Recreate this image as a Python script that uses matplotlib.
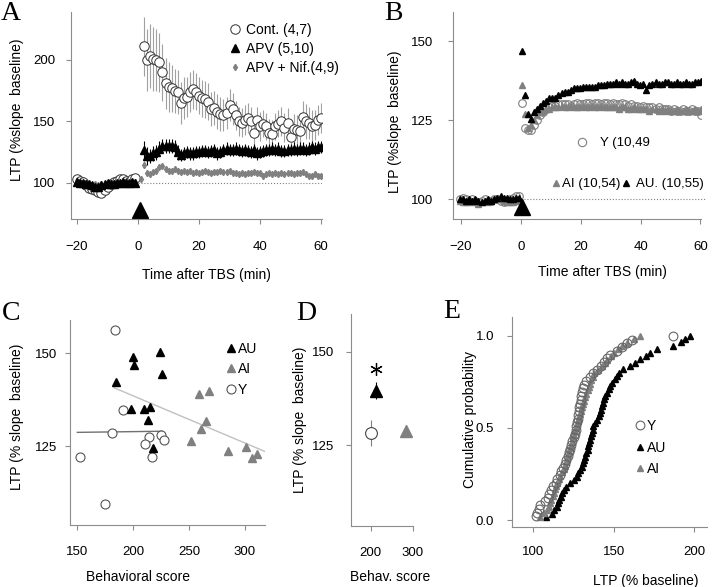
import numpy as np
import matplotlib
matplotlib.use('Agg')
import matplotlib.pyplot as plt
from matplotlib.lines import Line2D
from matplotlib.legend import Legend

plt.rcParams['font.family'] = ['Liberation Sans', 'DejaVu Sans']
plt.rcParams['font.size'] = 9.5

# ---------------- data ----------------
# panel A: time course, % slope baseline
t_base = np.arange(-20, 0)
t_post_a = np.arange(2, 61)
t_post_nif = np.arange(1, 61)

cont_base = [103, 102, 101, 98, 96, 95, 94, 93, 92, 94, 97, 99, 101, 102, 103, 103, 102, 101, 103, 104]
cont_base_err = [2, 2, 2, 2, 3, 3, 3, 3, 3, 2, 2, 2, 2, 2, 2, 2, 2, 2, 2, 2]
cont_post = [211, 200, 203, 201, 200, 198, 190, 181, 178, 177, 175, 174, 165, 169, 170, 174, 176, 174, 171, 169,
             168, 166, 160, 161, 158, 156, 155, 157, 163, 160, 155, 150, 149, 151, 153, 150, 141, 151, 146, 148,
             146, 141, 140, 146, 148, 150, 145, 149, 137, 144, 143, 142, 154, 150, 149, 146, 147, 151, 153]
cont_post_err = [24, 25, 26, 26, 25, 24, 23, 21, 20, 19, 18, 18, 17, 17, 16, 16, 16, 15, 15, 15,
                 15, 15, 14, 14, 14, 14, 13, 13, 13, 13, 12, 12, 12, 12, 12, 12, 12, 11, 12, 11,
                 11, 11, 11, 11, 11, 12, 12, 12, 12, 12, 12, 13, 13, 14, 13, 13, 12, 12, 12]

apv_base = [101, 100, 100, 99, 99, 98, 97, 97, 98, 99, 100, 99, 99, 100, 100, 101, 100, 100, 101, 100]
apv_base_err = [2, 2, 2, 2, 2, 2, 2, 2, 2, 2, 2, 2, 2, 2, 2, 2, 2, 2, 2, 2]
apv_post = [127, 122, 122, 124, 125, 128, 130, 130, 130, 130, 129, 125, 123, 124, 125, 124, 124, 125, 125, 126,
            126, 125, 126, 127, 124, 125, 127, 128, 127, 127, 128, 127, 126, 127, 126, 125, 127, 124, 125, 126,
            127, 127, 128, 127, 128, 126, 126, 127, 127, 128, 127, 128, 128, 127, 128, 129, 128, 129, 129]
apv_post_err = [7, 7, 6, 6, 6, 6, 6, 6, 6, 6, 6, 6, 5, 5, 5, 5, 5, 5, 5, 5,
                5, 5, 5, 5, 5, 5, 5, 5, 5, 5, 5, 5, 5, 5, 5, 5, 5, 5, 5, 5,
                5, 5, 5, 5, 5, 5, 5, 5, 5, 5, 5, 5, 5, 5, 5, 5, 5, 5, 5]

nif_base = [101, 100, 100, 99, 99, 98, 99, 98, 99, 99, 99, 100, 100, 100, 99, 100, 100, 100, 101, 101]
nif_base_err = [1.5, 1.5, 1.5, 1.5, 1.5, 1.5, 1.5, 1.5, 1.5, 1.5, 1.5, 1.5, 1.5, 1.5, 1.5, 1.5, 1.5, 1.5, 1.5, 1.5]
nif_post = [103, 115, 108, 107, 109, 110, 113, 114, 111, 110, 110, 111, 110, 109, 110, 109, 110, 108, 109, 108,
            109, 110, 109, 108, 109, 109, 110, 109, 109, 110, 108, 108, 107, 108, 107, 108, 108, 109, 108, 108,
            106, 107, 108, 107, 108, 107, 108, 107, 108, 108, 107, 108, 108, 109, 107, 106, 106, 107, 106, 106]
nif_post_err = [2, 3, 2, 2, 2, 2, 2, 2, 2, 2, 2, 2, 2, 2, 2, 2, 2, 2, 2, 2,
                2, 2, 2, 2, 2, 2, 2, 2, 2, 2, 2, 2, 2, 2, 2, 2, 2, 2, 2, 2,
                2, 2, 2, 2, 2, 2, 2, 2, 2, 2, 2, 2, 2, 2, 2, 2, 2, 2, 2, 2]

tbs_a = (0.7, 78)
dot_a = [0, 60.5]

# panel B: Y / AI / AU time course
t_base_b = np.linspace(-20.5, -0.5, 20)
t_post_b = np.linspace(0.4, 60.2, 60)
y_base = [100, 100.5, 100, 99.5, 100, 99.5, 99, 99.5, 100, 99.5, 99.5, 100, 100, 99.5, 99, 99.5, 100, 100.5, 101, 101]
ai_base = [99.5, 99, 99, 99, 99.5, 99, 98.5, 99, 99.5, 99, 99.5, 100, 100.5, 100, 99.5, 99, 99, 99, 99.5, 100]
au_base = [100, 100, 99.5, 100, 99.5, 100, 99.5, 99, 99.5, 100, 99.5, 100, 100.5, 101, 100.5, 100.5, 100, 100, 100.5, 100.5]
y_post = [130.5, 122.5, 122, 122, 123.5, 125, 126.5, 127.5, 128.5, 129,
          129.5, 129.5, 130, 130, 130, 130, 129.5, 130, 130.5, 130,
          130, 130.5, 130.5, 130, 130.5, 130.5, 130, 130.5, 130.5, 130,
          130.5, 130, 130, 130.5, 130, 129.5, 130, 129.5, 129.5, 129,
          129.5, 129, 129, 129, 128.5, 129, 128.5, 128.5, 128.5, 128,
          128.5, 128, 128, 128.5, 128, 128, 128.5, 128, 128, 126.5]
ai_post = [136, 127, 122.5, 123.5, 125, 126.5, 127.5, 128, 128.5, 128.5,
           129, 129, 129, 129.5, 129, 129, 129.5, 129, 129, 129,
           129.5, 129, 129, 129.5, 129, 129, 129.5, 129, 129, 129,
           129, 129, 128.5, 129, 129, 128.5, 128.5, 129, 128.5, 128.5,
           128.5, 128.5, 128, 128.5, 128.5, 128, 128.5, 128, 128.5, 128,
           128, 128.5, 128, 128, 128.5, 128, 128, 128.5, 128, 128.5]
au_post = [147, 133, 127, 125.5, 127.5, 128.5, 129.5, 130.5, 131, 132,
           132, 132, 133, 133.5, 134, 134, 134.5, 135, 135, 135,
           135.5, 135.5, 135.5, 135.5, 135.5, 136, 136, 136, 136.5, 136.5,
           136.5, 137, 136.5, 137, 136.5, 136.5, 137, 137.5, 136.5, 136,
           136.5, 134.5, 136, 136.5, 137, 136.5, 136.5, 137, 137, 136.5,
           136.5, 137, 136.5, 136.5, 137, 136.5, 136.5, 137, 137, 137.5]
tbs_b = (0.4, 97.6)
dot_b = [0, 62]

# panel C: LTP vs behavioral score
y_score = [184.2, 191.4, 181.3, 214.6, 210.7, 225, 228, 217.3, 152.4, 174.7]
y_ltp = [156.1, 134.8, 128.4, 127.5, 125.7, 128, 126.6, 122.1, 122.1, 109.5]
au_score = [185.1, 200.3, 201.2, 224.1, 225.9, 198.5, 210.1, 215.4, 213.7, 218.2]
au_ltp = [142.2, 148.9, 146.9, 150.4, 144.5, 134.9, 134.9, 135.4, 132.1, 124.6]
ai_score = [259.2, 268.2, 265.2, 260.7, 251.8, 285.1, 300.6, 306.3, 311]
ai_ltp = [138.9, 139.8, 131.8, 129.5, 126.3, 123.7, 124.8, 121.7, 123]
fit_aged_x = [183, 318.3]
fit_aged_y = [140.7, 123.5]
fit_young_x = [150.3, 226.2]
fit_young_y = [128.7, 129.0]

# panel D: group means
d_x = [200, 211.9, 284]
d_y = [128.3, 139.6, 128.8]
d_err = [3.5, 2.4, 1.5]
sig_x, sig_y = 211.9, 145.3

# panel E: cumulative distributions of LTP
e_y = [101.7, 102.5, 103.5, 104, 107.5, 109, 110, 111, 112.5, 114, 115, 116.5, 117.5, 118.5, 119.5, 120.5,
       121.3, 122, 122.6, 123.2, 124.2, 125.2, 125.9, 126.3, 126.7, 127.1, 127.5, 127.9, 128.3, 128.7, 129.1,
       129.5, 129.9, 130.3, 131, 131.8, 133, 135, 137, 139.5, 142, 144, 146, 147.6, 152, 155, 158, 161.5, 187]
e_ai = [104, 106.5, 108.3, 109.5, 110.5, 111.2, 112, 112.8, 113.5, 114.2, 114.8, 115.8, 116.8, 117.8, 118.8,
        119.6, 120.2, 120.8, 121.5, 122.3, 123, 123.6, 124.2, 124.8, 125.4, 126, 126.6, 127.3, 127.9, 128.5,
        129, 129.6, 130.3, 131, 131.7, 132.4, 133, 133.7, 134.4, 135.2, 136, 136.8, 137.5, 140, 142.5, 144.5,
        146, 148, 150, 152.5, 155, 158.5, 162.5, 166]
e_au = [107.9, 111.5, 113, 114.5, 115.5, 116.3, 117, 118, 119, 120.5, 123, 125.5, 127, 128, 129, 130, 130.8,
        131.5, 132.2, 133, 133.7, 134.3, 134.8, 135.3, 135.8, 136.3, 136.8, 137.3, 138.5, 139.8, 140.6, 141.3,
        142, 142.6, 143.2, 143.8, 144.8, 145.8, 146.8, 147.8, 149, 150.5, 152, 153.5, 156, 160, 163, 166.5,
        170, 172.5, 177, 187, 191.5, 194.5, 197.3]

GRAY = '#808080'
AXC = '#8c8c8c'

W, H = 720, 587
fig = plt.figure(figsize=(7.2, 5.87), dpi=100)


def px_axes(x0, y0, x1, y1):
    return fig.add_axes([x0 / W, 1 - y1 / H, (x1 - x0) / W, (y1 - y0) / H])


def style(ax, xpad, ypad):
    for s in ['top', 'right']:
        ax.spines[s].set_visible(False)
    for s in ['left', 'bottom']:
        ax.spines[s].set_color(AXC)
        ax.spines[s].set_linewidth(0.8)
    ax.tick_params(color=AXC, length=3.5, width=0.8, labelsize=9.5)
    ax.tick_params(axis='x', pad=xpad)
    ax.tick_params(axis='y', pad=ypad)
    ax.patch.set_visible(False)


def ftext(x, y, s, **kw):
    fig.text(x / W, 1 - y / H, s, ha='center', va='center', **kw)


def legend_at(ax, handles, labels, mx, ty, tx, hl=1.0, spacing=0.45, fs=10):
    em = fs * 100 / 72
    x0 = mx - hl * em / 2
    pad = (tx - (x0 + hl * em)) / em
    leg = Legend(ax, handles, labels, loc='upper left', bbox_to_anchor=(x0 / W, 1 - ty / H),
                 bbox_transform=fig.transFigure, frameon=False, borderpad=0, borderaxespad=0,
                 handlelength=hl, handletextpad=pad, labelspacing=spacing, numpoints=1, fontsize=fs)
    ax.add_artist(leg)


# ---------------- A ----------------
axA = px_axes(71, 12, 322, 219)
style(axA, 12.5, 8)
axA.set_xlim(-22, 60.3)
axA.set_ylim(70.7, 239)
axA.plot(dot_a, [100, 100], ':', color=GRAY, lw=0.8)
cont_kw = dict(fmt='o', ms=6.8, mfc='white', mec='#333333', mew=0.7, ecolor='#a0a0a0', elinewidth=0.8, capsize=0)
axA.errorbar(t_base, cont_base, yerr=cont_base_err, **cont_kw)
axA.errorbar(t_post_a, cont_post, yerr=cont_post_err, **cont_kw)
nif_kw = dict(fmt='d', ms=3.2, color=GRAY, mec=GRAY, ecolor=GRAY, elinewidth=0.8, capsize=0)
axA.errorbar(t_base, nif_base, yerr=nif_base_err, **nif_kw)
axA.errorbar(t_post_nif, nif_post, yerr=nif_post_err, **nif_kw)
apv_kw = dict(fmt='^', ms=5.5, color='black', ecolor='black', elinewidth=0.8, capsize=0)
axA.errorbar(t_base, apv_base, yerr=apv_base_err, **apv_kw)
axA.errorbar(t_post_a, apv_post, yerr=apv_post_err, **apv_kw)
axA.plot(*tbs_a, '^', ms=11.5, color='black', clip_on=False)
axA.set_xticks([-20, 0, 20, 40, 60])
axA.set_yticks([100, 150, 200])
hA = [Line2D([], [], ls='', marker='o', ms=6.8, mfc='white', mec='#333333', mew=0.7),
      Line2D([], [], ls='', marker='^', ms=5.5, color='black'),
      Line2D([], [], ls='', marker='d', ms=3.2, color=GRAY)]
legend_at(axA, hA, ['Cont. (4,7)', 'APV (5,10)', 'APV + Nif.(4,9)'], 235, 23, 246, hl=1.0, spacing=0.35)
ftext(206, 275, 'Time after TBS (min)', fontsize=10)
ftext(17, 110, 'LTP (%slope  baseline)', rotation=90, fontsize=10)

# ---------------- B ----------------
axB = px_axes(453, 12, 701, 219)
style(axB, 12.5, 11)
axB.set_xlim(-22.7, 60.2)
axB.set_ylim(93.7, 159.2)
axB.plot(dot_b, [100, 100], ':', color=GRAY, lw=0.8, clip_on=False)
axB.plot(t_base_b, y_base, 'o', ms=5.5, mfc='none', mec=GRAY, mew=0.8)
axB.plot(t_post_b, y_post, 'o', ms=5.5, mfc='none', mec=GRAY, mew=0.8)
axB.plot(t_base_b, ai_base, '^', ms=4.5, color=GRAY)
axB.plot(t_post_b, ai_post, '^', ms=4.5, color=GRAY)
axB.plot(t_base_b, au_base, '^', ms=4.5, color='black')
axB.plot(t_post_b, au_post, '^', ms=4.5, color='black')
axB.plot(*tbs_b, '^', ms=12, color='black', clip_on=False)
axB.set_xticks([-20, 0, 20, 40, 60])
axB.set_yticks([100, 125, 150])
legend_at(axB, [Line2D([], [], ls='', marker='o', ms=6, mfc='none', mec=GRAY, mew=0.8)], ['Y (10,49'],
          582, 137, 600, hl=1.0, fs=9.5)
legend_at(axB, [Line2D([], [], ls='', marker='^', ms=4.5, color=GRAY)], ['AI (10,54)'],
          556, 178, 561.5, hl=0.5, fs=9.5)
legend_at(axB, [Line2D([], [], ls='', marker='^', ms=4.5, color='black')], ['AU. (10,55)'],
          626, 178, 636, hl=0.5, fs=9.5)
ftext(602, 272, 'Time after TBS (min)', fontsize=10)
ftext(395, 122, 'LTP (%slope  baseline)', rotation=90, fontsize=10)

# ---------------- C ----------------
axC = px_axes(70, 320, 265, 525)
style(axC, 11.5, 6)
axC.set_xlim(143.75, 317.9)
axC.set_ylim(103.8, 158.9)
axC.plot(fit_aged_x, fit_aged_y, '-', color='#c0c0c0', lw=1.0)
axC.plot(fit_young_x, fit_young_y, '-', color='#707070', lw=1.0)
axC.plot(y_score, y_ltp, 'o', ms=6.5, mfc='white', mec='#555555', mew=0.8)
axC.plot(au_score, au_ltp, '^', ms=5.5, color='black')
axC.plot(ai_score, ai_ltp, '^', ms=5.5, color=GRAY)
axC.set_xticks([150, 200, 250, 300])
axC.set_yticks([125, 150])
hC = [Line2D([], [], ls='', marker='^', ms=5.5, color='black'),
      Line2D([], [], ls='', marker='^', ms=5.5, color=GRAY),
      Line2D([], [], ls='', marker='o', ms=6.5, mfc='white', mec='#555555', mew=0.8)]
legend_at(axC, hC, ['AU', 'AI', 'Y'], 231, 342, 238, hl=0.7, spacing=0.45)
ftext(138, 577, 'Behavioral score', fontsize=10)
ftext(17, 417, 'LTP (% slope  baseline)', rotation=90, fontsize=10)

# ---------------- D ----------------
axD = px_axes(350.7, 314, 413.3, 526)
style(axD, 11.5, 8.5)
axD.set_xlim(152.4, 301.4)
axD.set_ylim(103.3, 160.1)
axD.errorbar(d_x[0], d_y[0], yerr=d_err[0], fmt='o', ms=8.5, mfc='white', mec='#444444', mew=0.8,
             ecolor=GRAY, elinewidth=0.8, capsize=0)
axD.errorbar(d_x[1], d_y[1], yerr=d_err[1], fmt='^', ms=8, color='black', ecolor='black',
             elinewidth=0.8, capsize=0)
axD.errorbar(d_x[2], d_y[2], yerr=d_err[2], fmt='^', ms=8, color=GRAY, ecolor=GRAY,
             elinewidth=0.8, capsize=0)
axD.plot(sig_x, sig_y, marker=(6, 2, 0), ms=9, color='black', mew=0.9, ls='')
axD.set_xticks([200, 300])
axD.set_yticks([125, 150])
ftext(390, 577, 'Behav. score', fontsize=10)
ftext(300, 420, 'LTP (% slope  baseline)', rotation=90, fontsize=10)

# ---------------- E ----------------
axE = px_axes(512.3, 317.3, 706.7, 526.7)
style(axE, 10.5, 9.5)
axE.set_xlim(87, 207.7)
axE.set_ylim(-0.035, 1.10)
for vals, kw in [(e_au, dict(marker='^', ms=4.5, color='black')),
                 (e_ai, dict(marker='^', ms=4.5, color=GRAY)),
                 (e_y, dict(marker='o', ms=6.3, mfc='none', mec='#666666', mew=0.8))]:
    v = np.sort(vals)
    axE.plot(v, np.arange(1, len(v) + 1) / len(v), ls='', **kw)
axE.set_xticks([100, 150, 200])
axE.set_yticks([0.0, 0.5, 1.0])
axE.set_yticklabels(['0.0', '0.5', '1.0'])
hE = [Line2D([], [], ls='', marker='o', ms=6.3, mfc='none', mec='#666666', mew=0.8),
      Line2D([], [], ls='', marker='^', ms=4.5, color='black'),
      Line2D([], [], ls='', marker='^', ms=4.5, color=GRAY)]
legend_at(axE, hE, ['Y', 'AU', 'AI'], 640, 419, 647, hl=0.8, spacing=0.55)
ftext(646, 581, 'LTP (% baseline)', fontsize=10)
ftext(470, 420, 'Cumulative probability', rotation=90, fontsize=10)

# panel letters
for lx, ly, s in [(11, 14, 'A'), (393, 14, 'B'), (11, 313, 'C'), (306, 313, 'D'), (452, 312, 'E')]:
    ftext(lx, ly, s, family=['Liberation Serif', 'DejaVu Serif'], fontsize=20)

fig.savefig('out.png', dpi=100)
